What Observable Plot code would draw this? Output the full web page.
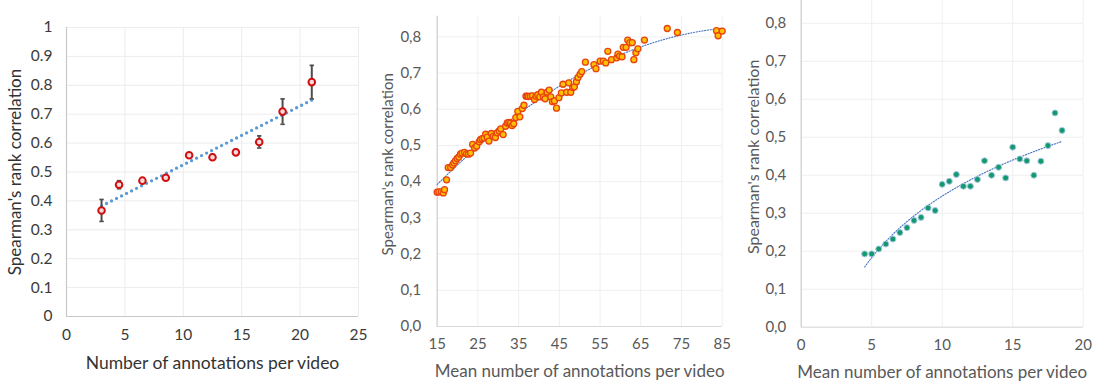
<!DOCTYPE html>
<html>
<head>
<meta charset="utf-8">
<script src="https://cdn.jsdelivr.net/npm/d3@7"></script>
<script src="https://cdn.jsdelivr.net/npm/@observablehq/plot@0.6"></script>
<style>
  html, body { margin: 0; padding: 0; background: #fff; }
  #wrap { position: relative; width: 1096px; height: 385px; overflow: hidden; }
  .panel { position: absolute; top: 0; }
  #p1 g[aria-label="x-axis label"], #p1 g[aria-label="x-axis label"] text { font-size: 17.5px; fill: #333; }
  #p1 g[aria-label="y-axis label"], #p1 g[aria-label="y-axis label"] text { font-size: 17px; fill: #333; }
  #p2 g[aria-label="x-axis label"], #p2 g[aria-label="x-axis label"] text { font-size: 17px; }
  #p2 g[aria-label="y-axis label"], #p2 g[aria-label="y-axis label"] text { font-size: 15px; }
  #p3 g[aria-label="x-axis label"], #p3 g[aria-label="x-axis label"] text { font-size: 17px; }
  #p3 g[aria-label="y-axis label"], #p3 g[aria-label="y-axis label"] text { font-size: 16px; }
</style>
</head>
<body>
<div id="wrap">
  <div class="panel" id="p1" style="left:0px"></div>
  <div class="panel" id="p2" style="left:370px"></div>
  <div class="panel" id="p3" style="left:730px"></div>
</div>
<script>
// ---------- Panel 1 data ----------
const leftX   = [3, 4.5, 6.5, 8.5, 10.5, 12.5, 14.5, 16.5, 18.5, 21];
const leftY   = [0.367, 0.456, 0.470, 0.480, 0.558, 0.551, 0.568, 0.604, 0.709, 0.811];
const leftErr = [0.038, 0.014, 0.008, 0.008, 0.008, 0.010, 0.010, 0.021, 0.044, 0.058];
const leftXTicks = [0, 5, 10, 15, 20, 25];
const leftYTicks = [0, 0.1, 0.2, 0.3, 0.4, 0.5, 0.6, 0.7, 0.8, 0.9, 1];

// ---------- Panel 2 data ----------
const midX = [15, 15.4, 16, 16.5, 16.8, 17.3, 17.7, 18.3, 18.8, 19.1, 19.5, 19.9, 20.3, 20.7, 21.1,
  21.7, 22.2, 22.7, 23.2, 23.7, 24.2, 24.7, 25.3, 25.6, 26.0, 26.5, 26.9, 27.3, 27.7, 28.3, 28.8,
  29.3, 29.7, 30.2, 30.6, 31.2, 31.8, 32.2, 32.6, 33.0, 33.4, 33.8, 34.3, 34.8, 35.3, 35.9, 36.3,
  36.8, 37.1, 37.4, 37.9, 38.4, 38.9, 39.3, 39.7, 40.2, 40.6, 41.1, 41.5, 42, 42.5, 42.9, 43.3,
  43.8, 44.3, 44.9, 45.5, 45.9, 46.8, 47.3, 47.8, 48.3, 48.7, 49.2, 49.6, 50.1, 50.5, 51.4, 53.5,
  54.0, 55, 55.8, 56.4, 56.9, 57.8, 59.1, 59.4, 59.8, 60.4, 60.7, 61.4, 61.8, 62.3, 62.9, 63.3,
  63.8, 64.3, 65.9, 71.5, 74, 83.6, 84.0, 85];
const midY = [0.371, 0.372, 0.372, 0.369, 0.378, 0.405, 0.439, 0.439, 0.446, 0.452, 0.458, 0.464, 0.468, 0.476, 0.479,
  0.481, 0.477, 0.476, 0.479, 0.503, 0.493, 0.498, 0.510, 0.516, 0.519, 0.521, 0.531, 0.523, 0.512, 0.533, 0.525,
  0.522, 0.535, 0.540, 0.546, 0.530, 0.553, 0.562, 0.564, 0.562, 0.555, 0.560, 0.577, 0.594, 0.579, 0.602, 0.611,
  0.636, 0.636, 0.635, 0.636, 0.637, 0.627, 0.636, 0.640, 0.634, 0.647, 0.634, 0.629, 0.647, 0.653, 0.634, 0.621,
  0.623, 0.603, 0.632, 0.645, 0.669, 0.647, 0.673, 0.647, 0.660, 0.662, 0.676, 0.688, 0.697, 0.704, 0.730, 0.723,
  0.712, 0.733, 0.733, 0.728, 0.760, 0.737, 0.742, 0.752, 0.747, 0.745, 0.771, 0.771, 0.791, 0.784, 0.784, 0.737,
  0.756, 0.767, 0.791, 0.823, 0.812, 0.817, 0.803, 0.816];
const midXTicks = [15, 25, 35, 45, 55, 65, 75, 85];
const midYTicks = [0, 0.1, 0.2, 0.3, 0.4, 0.5, 0.6, 0.7, 0.8];

// ---------- Panel 3 data ----------
const rightX = [4.5, 5, 5.5, 6, 6.5, 7, 7.5, 8, 8.5, 9, 9.5, 10, 10.5, 11, 11.5, 12, 12.5, 13, 13.5, 14,
  14.5, 15, 15.5, 16, 16.5, 17, 17.5, 18, 18.5];
const rightY = [0.193, 0.193, 0.206, 0.219, 0.232, 0.249, 0.262, 0.281, 0.289, 0.314, 0.307, 0.376, 0.384, 0.402,
  0.371, 0.371, 0.389, 0.438, 0.400, 0.421, 0.393, 0.474, 0.443, 0.438, 0.400, 0.437, 0.478, 0.564, 0.518];
const rightXTicks = [0, 5, 10, 15, 20];
const rightYTicks = [0, 0.1, 0.2, 0.3, 0.4, 0.5, 0.6, 0.7, 0.8];

const xTitle1 = "Number of annotations per video";
const xTitle2 = "Mean number of annotations per video";
const yTitle = "Spearman's rank correlation";

const FONT = "Lato, 'Open Sans', sans-serif";
const comma = d => d.toFixed(1).replace(".", ",");

// ---------- fits derived from the data ----------
function polyFit2(xs, ys) {
  let s = [0,0,0,0,0], t = [0,0,0];
  xs.forEach((x, i) => {
    const y = ys[i];
    for (let k = 0; k < 5; k++) s[k] += Math.pow(x, k);
    for (let k = 0; k < 3; k++) t[k] += y * Math.pow(x, k);
  });
  const A = [[s[0], s[1], s[2], t[0]], [s[1], s[2], s[3], t[1]], [s[2], s[3], s[4], t[2]]];
  for (let i = 0; i < 3; i++) {
    let p = i; for (let r = i + 1; r < 3; r++) if (Math.abs(A[r][i]) > Math.abs(A[p][i])) p = r;
    [A[i], A[p]] = [A[p], A[i]];
    for (let r = 0; r < 3; r++) if (r !== i) {
      const f = A[r][i] / A[i][i];
      for (let c = i; c < 4; c++) A[r][c] -= f * A[i][c];
    }
  }
  const c = [A[0][3] / A[0][0], A[1][3] / A[1][1], A[2][3] / A[2][2]];
  return x => c[0] + c[1] * x + c[2] * x * x;
}
function logFit(xs, ys) {
  const lx = xs.map(Math.log);
  const mx = d3.mean(lx), my = d3.mean(ys);
  let num = 0, den = 0;
  lx.forEach((v, i) => { num += (v - mx) * (ys[i] - my); den += (v - mx) ** 2; });
  const a = num / den, b = my - a * mx;
  return x => a * Math.log(x) + b;
}
function curve(f, xs) {
  const [lo, hi] = d3.extent(xs);
  return d3.range(0, 101).map(i => { const x = lo + (hi - lo) * i / 100; return {x, y: f(x)}; });
}
function nudgeYLabel(svg, dy) {
  const g = svg.querySelector('g[aria-label="y-axis label"]');
  if (!g) return;
  const t = g.getAttribute("transform") || "";
  g.setAttribute("transform", `translate(0,${dy}) ${t}`.trim());
}

const capSymbol = { draw(ctx, size) { const w = Math.sqrt(size) / 2; ctx.moveTo(-w, 0); ctx.lineTo(w, 0); } };

// ---------- Panel 1 ----------
const leftData = leftX.map((x, i) => ({x, y: leftY[i], lo: leftY[i] - leftErr[i], hi: leftY[i] + leftErr[i]}));
const p1 = Plot.plot({
  width: 370, height: 385,
  marginLeft: 66, marginRight: 12, marginTop: 27, marginBottom: 69,
  style: {fontFamily: FONT, fontSize: "15px", color: "#3a3a3a", background: "transparent", overflow: "visible"},
  x: {domain: [0, 25]},
  y: {domain: [0, 1]},
  marks: [
    Plot.gridX(leftXTicks, {stroke: "#ececec", strokeOpacity: 1}),
    Plot.gridY(leftYTicks, {stroke: "#ececec", strokeOpacity: 1}),
    Plot.ruleX([0], {stroke: "#c8c8c8", strokeWidth: 1.2}),
    Plot.ruleY([0], {stroke: "#c8c8c8", strokeWidth: 1.2}),
    Plot.axisX({ticks: leftXTicks, tickSize: 0, tickPadding: 12, fontSize: 15.5, label: xTitle1, labelAnchor: "center", labelArrow: "none", labelOffset: 52}),
    Plot.axisY({ticks: leftYTicks, tickSize: 0, tickPadding: 14, fontSize: 15.5, tickFormat: d => String(d), label: yTitle, labelAnchor: "center", labelArrow: "none", labelOffset: 58}),
    Plot.linearRegressionY(leftData, {x: "x", y: "y", ci: 0, stroke: "#5b9bd5", strokeWidth: 3.3, strokeDasharray: "0 5.6", strokeLinecap: "round"}),
    Plot.ruleX(leftData, {x: "x", y1: "lo", y2: "hi", stroke: "#4d4d4d", strokeWidth: 2}),
    Plot.dot(leftData, {x: "x", y: "hi", symbol: capSymbol, r: 2.5, stroke: "#4d4d4d", strokeWidth: 1.6}),
    Plot.dot(leftData, {x: "x", y: "lo", symbol: capSymbol, r: 2.5, stroke: "#4d4d4d", strokeWidth: 1.6}),
    Plot.dot(leftData, {x: "x", y: "y", r: 3.3, stroke: "#d01010", strokeWidth: 2, fill: "#f4dada"})
  ]
});
document.getElementById("p1").append(p1);

// ---------- Panel 2 ----------
const midData = midX.map((x, i) => ({x, y: midY[i]}));
const midFit = curve(polyFit2(midX, midY), midX);
const p2 = Plot.plot({
  width: 360, height: 385,
  marginLeft: 66.7, marginRight: 8.3, marginTop: 15.7, marginBottom: 59,
  style: {fontFamily: FONT, fontSize: "15px", color: "#595959", background: "transparent", overflow: "visible"},
  x: {domain: [15, 85]},
  y: {domain: [0, 0.857]},
  marks: [
    Plot.gridX(midXTicks, {stroke: "#efefef", strokeOpacity: 1}),
    Plot.gridY(midYTicks, {stroke: "#efefef", strokeOpacity: 1}),
    Plot.ruleX([15], {stroke: "#d0d0d0", strokeWidth: 1.2}),
    Plot.ruleY([0], {stroke: "#d9d9d9", strokeWidth: 1}),
    Plot.axisX({ticks: midXTicks, tickSize: 0, tickPadding: 12, fontSize: 15, label: xTitle2, labelAnchor: "center", labelArrow: "none", labelOffset: 50}),
    Plot.axisY({ticks: midYTicks, tickSize: 0, tickPadding: 16, fontSize: 15, tickFormat: comma, label: yTitle, labelAnchor: "center", labelArrow: "none", labelOffset: 55}),
    Plot.line(midFit, {x: "x", y: "y", stroke: "#4472c4", strokeWidth: 1.1, strokeDasharray: "1.2 1.6"}),
    Plot.dot(midData, {x: "x", y: "y", r: 3, fill: "#ffc000", stroke: "#e8420f", strokeWidth: 1.3})
  ]
});
nudgeYLabel(p2, -7);
document.getElementById("p2").append(p2);

// ---------- Panel 3 ----------
const rightData = rightX.map((x, i) => ({x, y: rightY[i]}));
const rightFit = curve(logFit(rightX, rightY), rightX);
const p3 = Plot.plot({
  width: 366, height: 385,
  marginLeft: 70.7, marginRight: 13.3, marginTop: 0, marginBottom: 58.3,
  style: {fontFamily: FONT, fontSize: "15px", color: "#595959", background: "transparent", overflow: "visible"},
  x: {domain: [0, 20]},
  y: {domain: [0, 0.86]},
  marks: [
    Plot.gridX(rightXTicks, {stroke: "#efefef", strokeOpacity: 1}),
    Plot.gridY(rightYTicks, {stroke: "#efefef", strokeOpacity: 1}),
    Plot.ruleX([0], {stroke: "#d0d0d0", strokeWidth: 1.2}),
    Plot.ruleY([0], {stroke: "#d9d9d9", strokeWidth: 1}),
    Plot.axisX({ticks: rightXTicks, tickSize: 0, tickPadding: 12, fontSize: 15, label: xTitle2, labelAnchor: "center", labelArrow: "none", labelOffset: 51}),
    Plot.axisY({ticks: rightYTicks, tickSize: 0, tickPadding: 15, fontSize: 15, tickFormat: comma, label: yTitle, labelAnchor: "center", labelArrow: "none", labelOffset: 54}),
    Plot.line(rightFit, {x: "x", y: "y", stroke: "#4472c4", strokeWidth: 1.1, strokeDasharray: "1.2 1.6"}),
    Plot.dot(rightData, {x: "x", y: "y", r: 3, fill: "#119a6a", stroke: "#a9c8ea", strokeWidth: 1})
  ]
});
nudgeYLabel(p3, -7);
document.getElementById("p3").append(p3);
</script>
</body>
</html>
